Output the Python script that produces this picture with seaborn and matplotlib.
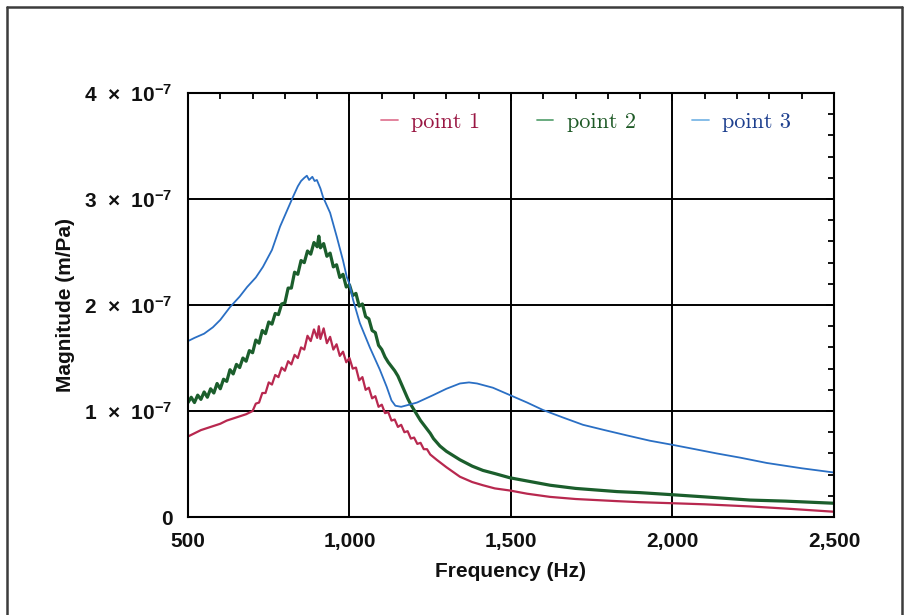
import matplotlib
matplotlib.use("Agg")
import matplotlib.pyplot as plt
from matplotlib.lines import Line2D
from matplotlib.ticker import MultipleLocator
import seaborn as sns
import pandas as pd

# ---------------- data (magnitude in units of 1e-7 m/Pa) ----------------
freq_p1 = [500, 520, 540, 560, 580, 600, 620, 640, 660, 680,
           700, 710, 720, 730, 740, 750, 760, 770, 780, 790,
           800, 810, 820, 830, 840, 850, 860, 870, 880, 890,
           900, 905, 910, 920, 930, 940, 950, 960, 970, 980,
           990, 1000, 1010, 1020, 1030, 1040, 1050, 1060, 1070, 1080,
           1090, 1100, 1110, 1120, 1130, 1140, 1150, 1160, 1170, 1180,
           1190, 1200, 1210, 1220, 1230, 1240, 1250, 1270, 1300, 1342,
           1380, 1413, 1450, 1497, 1550, 1621, 1700, 1828, 1900, 2002,
           2100, 2240, 2350, 2500]
mag_p1 = [0.76, 0.79, 0.82, 0.84, 0.86, 0.88, 0.91, 0.93, 0.95, 0.97,
          1.00, 1.07, 1.08, 1.17, 1.17, 1.27, 1.25, 1.34, 1.32, 1.41,
          1.38, 1.47, 1.44, 1.53, 1.50, 1.60, 1.58, 1.71, 1.66, 1.77,
          1.69, 1.80, 1.68, 1.78, 1.64, 1.70, 1.58, 1.63, 1.52, 1.56,
          1.46, 1.50, 1.40, 1.41, 1.29, 1.32, 1.20, 1.22, 1.12, 1.14,
          1.04, 1.06, 0.98, 0.99, 0.91, 0.92, 0.85, 0.87, 0.80, 0.81,
          0.74, 0.75, 0.69, 0.70, 0.64, 0.64, 0.59, 0.54, 0.47, 0.38,
          0.33, 0.30, 0.27, 0.25, 0.22, 0.19, 0.17, 0.15, 0.14, 0.13,
          0.12, 0.10, 0.08, 0.05]

freq_p2 = [500, 510, 520, 530, 540, 550, 560, 570, 580, 590,
           600, 610, 620, 630, 640, 650, 660, 670, 680, 690,
           700, 710, 720, 730, 740, 750, 760, 770, 780, 790,
           800, 810, 820, 830, 840, 850, 860, 870, 880, 890,
           900, 905, 910, 920, 930, 940, 950, 960, 970, 980,
           990, 1000, 1010, 1020, 1030, 1040, 1050, 1060, 1070, 1080,
           1090, 1100, 1110, 1120, 1130, 1140, 1150, 1160, 1170, 1180,
           1190, 1200, 1210, 1220, 1230, 1240, 1250, 1260, 1280, 1300,
           1342, 1380, 1413, 1450, 1497, 1550, 1621, 1700, 1828, 1900,
           2002, 2100, 2240, 2350, 2500]
mag_p2 = [1.08, 1.13, 1.08, 1.15, 1.11, 1.18, 1.13, 1.21, 1.17, 1.26,
          1.21, 1.30, 1.28, 1.39, 1.35, 1.44, 1.41, 1.50, 1.47, 1.57,
          1.55, 1.67, 1.64, 1.76, 1.73, 1.84, 1.82, 1.92, 1.91, 2.01,
          2.02, 2.16, 2.16, 2.31, 2.29, 2.42, 2.40, 2.51, 2.48, 2.59,
          2.55, 2.65, 2.54, 2.58, 2.46, 2.49, 2.36, 2.38, 2.26, 2.29,
          2.17, 2.19, 2.09, 2.11, 1.99, 2.01, 1.89, 1.87, 1.76, 1.74,
          1.62, 1.58, 1.51, 1.46, 1.42, 1.38, 1.33, 1.26, 1.19, 1.12,
          1.06, 1.01, 0.96, 0.91, 0.87, 0.83, 0.79, 0.74, 0.67, 0.62,
          0.54, 0.48, 0.44, 0.41, 0.37, 0.34, 0.30, 0.27, 0.24, 0.23,
          0.21, 0.19, 0.16, 0.15, 0.13]

freq_p3 = [500, 520, 550, 577, 600, 630, 660, 683, 710, 732,
           760, 785, 805, 825, 840, 850, 860, 868, 875, 885,
           892, 899, 910, 918, 940, 961, 980, 992, 1000, 1011,
           1032, 1063, 1094, 1115, 1130, 1142, 1160, 1185, 1209, 1259, 1300,
           1342, 1370, 1395, 1444, 1497, 1550, 1599, 1660, 1723, 1790,
           1859, 1930, 2002, 2070, 2137, 2210, 2292, 2400, 2500]
mag_p3 = [1.66, 1.69, 1.73, 1.79, 1.86, 1.98, 2.08, 2.17, 2.26, 2.36,
          2.52, 2.74, 2.88, 3.02, 3.12, 3.17, 3.20, 3.22, 3.18, 3.21,
          3.17, 3.18, 3.10, 3.02, 2.87, 2.64, 2.42, 2.26, 2.20, 2.05,
          1.83, 1.60, 1.39, 1.23, 1.10, 1.05, 1.04, 1.06, 1.08, 1.15, 1.21,
          1.26, 1.27, 1.26, 1.22, 1.15, 1.08, 1.01, 0.94, 0.87, 0.82,
          0.77, 0.72, 0.68, 0.64, 0.60, 0.56, 0.51, 0.46, 0.42]

series_names = ["point 1", "point 2", "point 3"]
x_tick_values = [500, 1000, 1500, 2000, 2500]
x_tick_labels = ["500", "1,000", "1,500", "2,000", "2,500"]
y_tick_values = [0, 1, 2, 3, 4]
y_tick_labels = ["0", "1  ×  10$^{-7}$", "2  ×  10$^{-7}$",
                 "3  ×  10$^{-7}$", "4  ×  10$^{-7}$"]

# ---------------- style ----------------
sns.set_theme(style="white")
plt.rcParams["font.family"] = ["Liberation Sans", "DejaVu Sans"]
plt.rcParams["mathtext.fontset"] = "custom"
plt.rcParams["mathtext.rm"] = "Liberation Sans:bold"
plt.rcParams["mathtext.bf"] = "Liberation Sans:bold"
plt.rcParams["mathtext.it"] = "Liberation Sans:bold"
plt.rcParams["mathtext.default"] = "bf"

line_colors = ["#b8284f", "#1b5e2c", "#2a6fc4"]
line_widths = [1.6, 2.3, 1.3]
legend_handle_colors = ["#e07a95", "#5ea575", "#7cb8e6"]
legend_text_colors = ["#9a1743", "#1f5a27", "#1d3f8e"]

df = pd.concat([
    pd.DataFrame({"freq": freq_p1, "mag": mag_p1, "series": series_names[0]}),
    pd.DataFrame({"freq": freq_p2, "mag": mag_p2, "series": series_names[1]}),
    pd.DataFrame({"freq": freq_p3, "mag": mag_p3, "series": series_names[2]}),
])

fig = plt.figure(figsize=(9.06, 6.15), dpi=100)
fig.patch.set_facecolor("white")
ax = fig.add_axes([0.2075, 0.1593, 0.713, 0.6894])

for name, c, lw in zip(series_names, line_colors, line_widths):
    sub = df[df["series"] == name]
    sns.lineplot(data=sub, x="freq", y="mag", ax=ax, color=c, lw=lw,
                 estimator=None, sort=False, legend=False)

ax.set_xlim(500, 2500)
ax.set_ylim(0, 4)
ax.set_xticks(x_tick_values)
ax.set_xticklabels(x_tick_labels)
ax.set_yticks(y_tick_values)
ax.set_yticklabels(y_tick_labels)
ax.xaxis.set_minor_locator(MultipleLocator(100))
ax.yaxis.set_minor_locator(MultipleLocator(0.2))
ax.tick_params(which="both", direction="in", top=True, right=True,
               color="black", width=1.3)
ax.tick_params(which="major", length=6, pad=11)
ax.tick_params(which="minor", length=4)
for lab in ax.get_xticklabels() + ax.get_yticklabels():
    lab.set_fontsize(15)
    lab.set_fontweight("bold")
    lab.set_color("#111111")

ax.grid(True, which="major", color="black", lw=1.4)
for s in ax.spines.values():
    s.set_color("black")
    s.set_linewidth(1.5)

ax.set_xlabel("Frequency (Hz)", fontsize=15, fontweight="bold", color="#111111", labelpad=8)
ax.set_ylabel("Magnitude (m/Pa)", fontsize=15, fontweight="bold", color="#111111", labelpad=7)

handles = [Line2D([0], [0], color=c, lw=1.3) for c in legend_handle_colors]
leg = ax.legend(handles, series_names, ncol=3, frameon=False,
                loc="center left", bbox_to_anchor=(0.299, 0.932),
                borderpad=0, borderaxespad=0, handlelength=0.75,
                handletextpad=0.6, columnspacing=2.55,
                prop={"family": ["cmr10", "DejaVu Serif"], "size": 16})
for t, c in zip(leg.get_texts(), legend_text_colors):
    t.set_color(c)

# outer frame of the figure (top, left, right)
W, H = 906.0, 615.0
fc = "#3c3c3c"
fig.add_artist(Line2D([7 / W, 7 / W], [0, 1 - 7 / H], transform=fig.transFigure, color=fc, lw=1.8))
fig.add_artist(Line2D([902 / W, 902 / W], [0, 1 - 7 / H], transform=fig.transFigure, color=fc, lw=1.8))
fig.add_artist(Line2D([7 / W, 902 / W], [1 - 7 / H, 1 - 7 / H], transform=fig.transFigure, color=fc, lw=1.8))

fig.savefig("out.png", dpi=100, facecolor="white")
